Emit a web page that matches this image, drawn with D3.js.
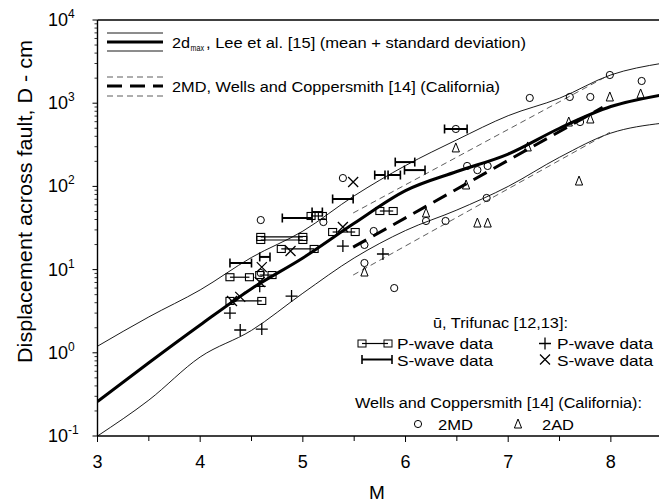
<!DOCTYPE html>
<html><head><meta charset="utf-8">
<script src="https://cdn.jsdelivr.net/npm/d3@7"></script>
<style>
body{margin:0;background:#fff}
svg{display:block}
text{font-family:"Liberation Sans",Arial,sans-serif;fill:#000}
</style>
</head><body>
<svg id="chart" width="659" height="503"></svg>
<script>
// ---- Data ----
const leeM     = [3, 3.5, 4, 4.5, 5, 5.5, 6, 6.5, 7, 7.5, 8, 8.5];
const leeMean  = [0.26, 0.76, 2.16, 5.9, 13.8, 36, 89, 151, 245, 500, 912, 1260];
const leeUpper = [1.2, 2.7, 5.7, 14, 29, 77, 178, 363, 708, 1148, 2188, 3020];
const leeLower = [0.1, 0.27, 0.89, 1.86, 5.2, 13.8, 29.5, 52, 100, 224, 437, 575];

const wcMeanM  = [5.49, 7.92], wcMean  = [18.6, 891];
const wcUpperM = [5.49, 7.94], wcUpper = [47.9, 2042];
const wcLowerM = [5.49, 7.99], wcLower = [8.6, 447];

// [M, D]
const md2 = [[5.39,126],[4.59,39.4],[5.20,37.3],[5.69,29.1],[5.60,19.8],[5.60,12.0],[5.89,6.0],
  [6.60,176],[6.70,157],[6.80,176],[6.79,72.6],[6.20,38.4],[6.39,38.4],[7.21,1156],[7.60,1188],
  [7.80,1188],[7.99,2183],[8.30,1849],[7.70,594],[6.49,490],[4.59,9.1]];
const ad2 = [[7.99,1188],[8.29,1291],[6.49,290],[7.19,298],[7.59,594],[7.80,646],[6.59,104],
  [6.20,47.9],[7.69,116],[6.70,36.3],[6.80,36.3],[5.60,9.35]];
const pPlus  = [[5.39,19.2],[5.78,15.4],[4.89,4.8],[4.39,1.88],[4.60,1.93],[4.29,3.0],[4.58,6.3]];
const sCross = [[5.49,113],[5.39,32.5],[4.88,16.7],[4.60,10.7],[4.58,7.1],[4.39,4.7],[4.31,4.2]];
// [M1, M2, D]
const sBars = [[4.29,4.50,12.0],[4.58,4.68,14.2],[4.80,5.09,41.7],[5.09,5.19,49.2],[5.29,5.49,70.6],
  [5.70,5.80,137],[5.83,5.95,137],[5.99,6.19,157],[5.90,6.09,196],[6.38,6.60,490]];
const pBars = [[4.29,4.48,8.1],[4.58,4.70,8.6],[4.29,4.60,4.2],[4.59,5.00,24.7],[4.59,5.00,22.7],
  [4.79,5.11,17.7],[5.29,5.51,28.3],[5.08,5.19,44.1],[5.75,5.88,50.6]];

const xTicks = [3,4,5,6,7,8];
const xMinor = [3.5,4.5,5.5,6.5,7.5,8.5];
const yExp = [-1,0,1,2,3,4];

// ---- Layout ----
const svg = d3.select("#chart");
const L = 97.5, T = 20, B = 436, R = 662.2;
const x = d3.scaleLinear().domain([3, 8.5]).range([L, R]);
const y = d3.scaleLog().domain([0.1, 10000]).range([B, T]);

svg.append("defs").append("clipPath").attr("id","clip")
  .append("rect").attr("x",L).attr("y",T).attr("width",R-L).attr("height",B-T);

const plot = svg.append("g").attr("clip-path","url(#clip)");

// Lee curves
const lee = (arr) => d3.line().curve(d3.curveMonotoneX)
  .x((d,i)=>x(leeM[i])).y(d=>y(d))(arr);
plot.append("path").attr("d", lee(leeUpper)).attr("fill","none").attr("stroke","#000").attr("stroke-width",0.9);
plot.append("path").attr("d", lee(leeLower)).attr("fill","none").attr("stroke","#000").attr("stroke-width",0.9);
plot.append("path").attr("d", lee(leeMean)).attr("fill","none").attr("stroke","#000").attr("stroke-width",3);

// Wells & Coppersmith lines
const seg = (ms, ds) => d3.line().x((d,i)=>x(ms[i])).y(d=>y(d))(ds);
plot.append("path").attr("d", seg(wcUpperM, wcUpper)).attr("fill","none").attr("stroke","#333")
  .attr("stroke-width",0.8).attr("stroke-dasharray","6,4");
plot.append("path").attr("d", seg(wcLowerM, wcLower)).attr("fill","none").attr("stroke","#333")
  .attr("stroke-width",0.8).attr("stroke-dasharray","6,4");
plot.append("path").attr("d", seg(wcMeanM, wcMean)).attr("fill","none").attr("stroke","#000")
  .attr("stroke-width",3).attr("stroke-dasharray","15,8");

// markers
const mk = svg.append("g").attr("fill","none").attr("stroke","#000").attr("stroke-width",1.1);

pBars.forEach(d=>{
  const x1=x(d[0]), x2=x(d[1]), yy=y(d[2]);
  mk.append("line").attr("x1",x1).attr("x2",x2).attr("y1",yy).attr("y2",yy).attr("stroke-width",1.2);
  [x1,x2].forEach(cx=>mk.append("rect").attr("x",cx-4).attr("y",yy-3.5).attr("width",8).attr("height",7));
});
sBars.forEach(d=>{
  const x1=x(d[0]), x2=x(d[1]), yy=y(d[2]);
  mk.append("line").attr("x1",x1).attr("x2",x2).attr("y1",yy).attr("y2",yy).attr("stroke-width",2);
  [x1,x2].forEach(cx=>mk.append("line").attr("x1",cx).attr("x2",cx).attr("y1",yy-4.5).attr("y2",yy+4.5).attr("stroke-width",1.6));
});
const plus = (g,cx,cy,s)=>g.append("path").attr("d",`M${cx-s},${cy}H${cx+s}M${cx},${cy-s}V${cy+s}`).attr("stroke-width",1.3);
const cross = (g,cx,cy,s)=>g.append("path").attr("d",`M${cx-s},${cy-s}L${cx+s},${cy+s}M${cx-s},${cy+s}L${cx+s},${cy-s}`).attr("stroke-width",1.3);
const tri = (g,cx,cy)=>g.append("path").attr("d",`M${cx},${cy-5}L${cx+3.6},${cy+4}L${cx-3.6},${cy+4}Z`).attr("stroke-width",1);
const circ = (g,cx,cy)=>g.append("circle").attr("cx",cx).attr("cy",cy).attr("r",3.6).attr("stroke-width",1);

pPlus.forEach(d=>plus(mk,x(d[0]),y(d[1]),6));
sCross.forEach(d=>cross(mk,x(d[0]),y(d[1]),5));
ad2.forEach(d=>tri(mk,x(d[0]),y(d[1])));
md2.forEach(d=>circ(mk,x(d[0]),y(d[1])));

// ---- Axes ----
const ax = svg.append("g").attr("stroke","#000");
ax.append("line").attr("x1",L).attr("x2",659).attr("y1",T).attr("y2",T).attr("stroke-width",1.4);
ax.append("line").attr("x1",L).attr("x2",659).attr("y1",B).attr("y2",B).attr("stroke-width",1.4);
ax.append("line").attr("x1",L).attr("x2",L).attr("y1",T).attr("y2",B).attr("stroke-width",1.4);

xTicks.forEach(v=>ax.append("line").attr("x1",x(v)).attr("x2",x(v)).attr("y1",B).attr("y2",B+6).attr("stroke-width",1));
xMinor.forEach(v=>{ if(x(v)<659) ax.append("line").attr("x1",x(v)).attr("x2",x(v)).attr("y1",B).attr("y2",B+5).attr("stroke-width",1);});
svg.append("g").selectAll("text").data(xTicks).join("text")
  .attr("x",d=>x(d)).attr("y",468).attr("text-anchor","middle").attr("font-size",18).text(d=>d);

yExp.forEach(e=>{
  const v = Math.pow(10,e);
  ax.append("line").attr("x1",L-5).attr("x2",L).attr("y1",y(v)).attr("y2",y(v)).attr("stroke-width",1);
  if(e<4) for(let k=2;k<=9;k++){ const yy=y(k*v); ax.append("line").attr("x1",L-3).attr("x2",L).attr("y1",yy).attr("y2",yy).attr("stroke-width",0.8); }
  const t = svg.append("text").attr("x",48).attr("y",y(v)+6).attr("font-size",18);
  t.append("tspan").text("10");
  t.append("tspan").attr("dy",-8).attr("font-size",12).text(e);
});

svg.append("text").attr("transform","translate(32,201.5) rotate(-90)").attr("text-anchor","middle")
  .attr("font-size",19.5).attr("textLength",323).attr("lengthAdjust","spacingAndGlyphs")
  .text("Displacement across fault, D - cm");
svg.append("text").attr("x",377).attr("y",499).attr("text-anchor","middle").attr("font-size",19).text("M");

const ftext = (tx,ty,len,str,fs)=>svg.append("text").attr("x",tx).attr("y",ty).attr("font-size",fs||15.5)
  .attr("textLength",len).attr("lengthAdjust","spacingAndGlyphs").text(str);

// ---- Top-left legend ----
const lg = svg.append("g").attr("stroke","#000").attr("fill","none");
lg.append("line").attr("x1",107).attr("x2",163).attr("y1",33).attr("y2",33).attr("stroke-width",0.9);
lg.append("line").attr("x1",107).attr("x2",163).attr("y1",42).attr("y2",42).attr("stroke-width",3);
lg.append("line").attr("x1",107).attr("x2",163).attr("y1",51).attr("y2",51).attr("stroke-width",0.9);
lg.append("line").attr("x1",107).attr("x2",163).attr("y1",77).attr("y2",77).attr("stroke-width",0.8).attr("stroke","#333").attr("stroke-dasharray","6,4");
lg.append("line").attr("x1",107).attr("x2",163).attr("y1",86).attr("y2",86).attr("stroke-width",3).attr("stroke-dasharray","15,8");
lg.append("line").attr("x1",107).attr("x2",163).attr("y1",96).attr("y2",96).attr("stroke-width",0.8).attr("stroke","#333").attr("stroke-dasharray","6,4");
ftext(172,47.5,18,"2d",15.5);
ftext(190.5,50.5,13.5,"max",8.5);
ftext(206,47.5,320,", Lee et al. [15] (mean + standard deviation)",15.5);
ftext(172,91.5,328,"2MD, Wells and Coppersmith [14] (California)",15.5);

// ---- Bottom-right legend ----
ftext(433,328,135,"ū, Trifunac [12,13]:",15.5);
const lb = svg.append("g").attr("stroke","#000").attr("fill","none");
lb.append("line").attr("x1",362).attr("x2",388).attr("y1",343.5).attr("y2",343.5).attr("stroke-width",1.2);
[362,388].forEach(cx=>lb.append("rect").attr("x",cx-4).attr("y",340).attr("width",8).attr("height",7));
lb.append("line").attr("x1",362).attr("x2",392).attr("y1",359.5).attr("y2",359.5).attr("stroke-width",2);
[362,392].forEach(cx=>lb.append("line").attr("x1",cx).attr("x2",cx).attr("y1",355).attr("y2",364).attr("stroke-width",1.6));
plus(lb,545,343.5,6);
cross(lb,545,359.5,5);
ftext(397,348.5,96,"P-wave data",15);
ftext(397,365.5,96,"S-wave data",15);
ftext(557,348.5,96,"P-wave data",15);
ftext(557,365.5,96,"S-wave data",15);

ftext(355,408,287,"Wells and Coppersmith [14] (California):",15.5);
circ(lb,418,424);
tri(lb,518,424);
ftext(438,430,35,"2MD",15.5);
ftext(542,430,32,"2AD",15.5);
</script>
</body></html>
